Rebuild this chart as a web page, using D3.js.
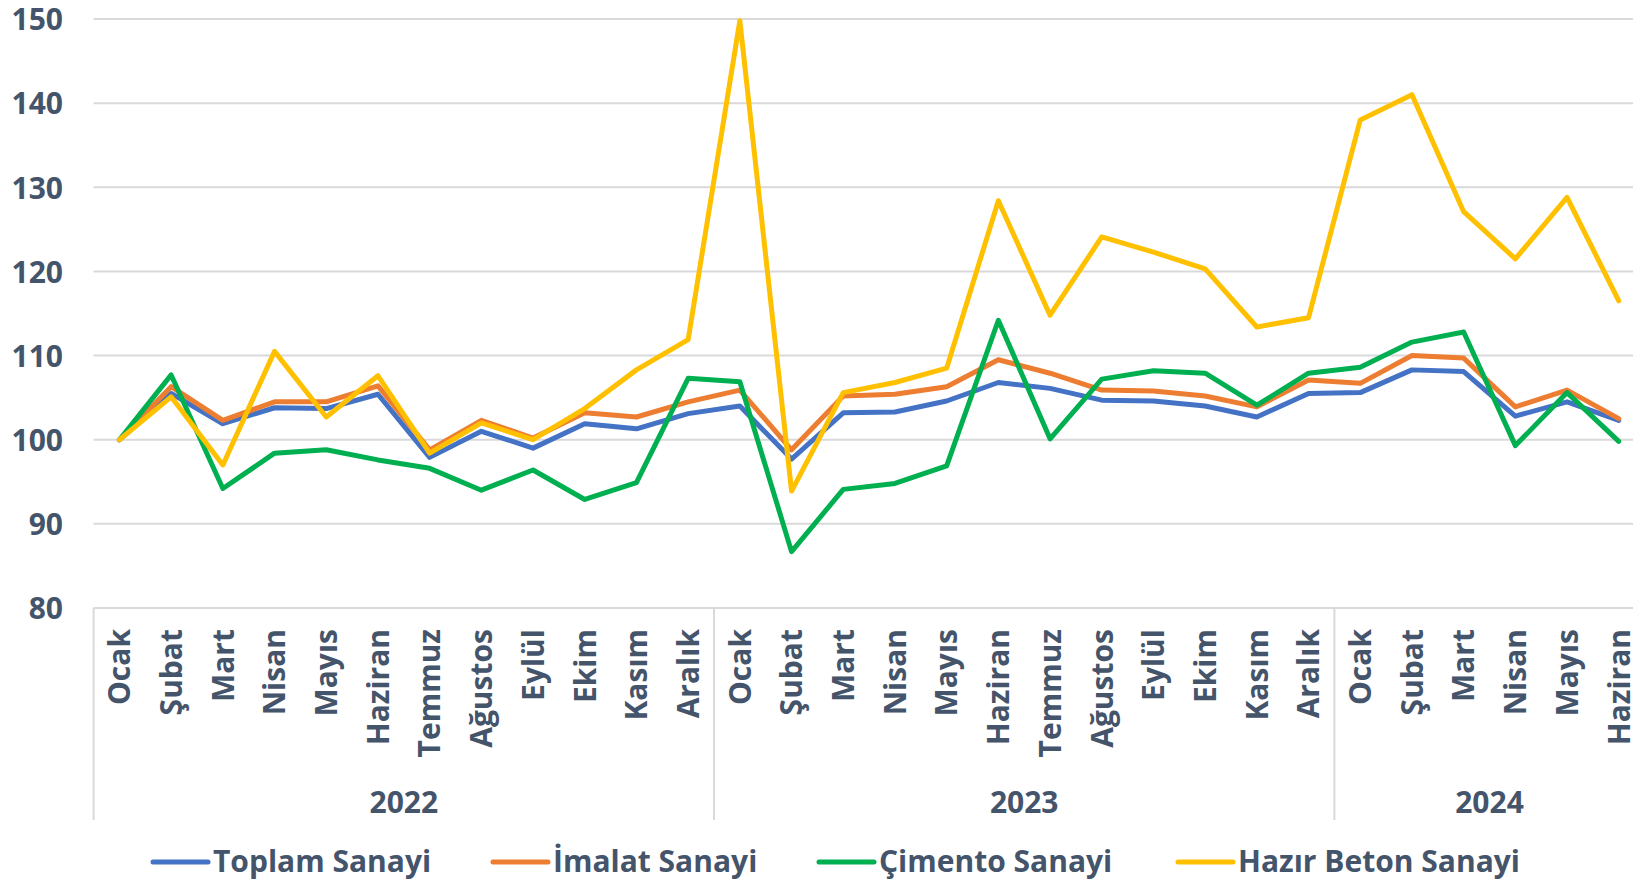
<!DOCTYPE html>
<html>
<head>
<meta charset="utf-8">
<script src="https://d3js.org/d3.v7.min.js"></script>
<style>
	body { margin: 0; background: #fff; }
	text { font-family: 'Open Sans', sans-serif; font-weight: bold; fill: #44546A; }
</style>
</head>
<body>
<div class="chart"></div>
<script>
// month labels on the x axis
var monthLabels = [
	'Ocak', 'Şubat', 'Mart', 'Nisan', 'Mayıs', 'Haziran', 'Temmuz', 'Ağustos', 'Eylül', 'Ekim', 'Kasım', 'Aralık',
	'Ocak', 'Şubat', 'Mart', 'Nisan', 'Mayıs', 'Haziran', 'Temmuz', 'Ağustos', 'Eylül', 'Ekim', 'Kasım', 'Aralık',
	'Ocak', 'Şubat', 'Mart', 'Nisan', 'Mayıs', 'Haziran'
];

// years and how many months each one has
var years = ['2022', '2023', '2024'];
var yearMonths = [12, 12, 6];

var yTicks = [80, 90, 100, 110, 120, 130, 140, 150];

// series values
var toplam = [100, 105.5, 101.9, 103.8, 103.7, 105.4, 97.9, 101.0, 99.0, 101.9, 101.3, 103.1,
	104.0, 97.7, 103.2, 103.3, 104.6, 106.8, 106.1, 104.7, 104.6, 104.0, 102.7, 105.5,
	105.6, 108.3, 108.1, 102.8, 104.5, 102.3];
var imalat = [100, 106.3, 102.3, 104.5, 104.5, 106.4, 98.8, 102.3, 100.2, 103.2, 102.7, 104.5,
	105.9, 98.8, 105.2, 105.4, 106.3, 109.5, 107.9, 105.9, 105.8, 105.2, 103.9, 107.1,
	106.7, 110.0, 109.7, 103.9, 105.9, 102.5];
var cimento = [100, 107.7, 94.2, 98.4, 98.8, 97.6, 96.6, 94.0, 96.4, 92.9, 94.9, 107.3,
	106.9, 86.7, 94.1, 94.8, 96.9, 114.2, 100.1, 107.2, 108.2, 107.9, 104.1, 107.9,
	108.6, 111.6, 112.8, 99.3, 105.6, 99.8];
var hazirBeton = [100, 105.1, 97.0, 110.5, 102.7, 107.6, 98.4, 102.0, 100.0, 103.7, 108.3, 111.9,
	149.8, 93.9, 105.6, 106.8, 108.5, 128.4, 114.8, 124.1, 122.3, 120.3, 113.4, 114.5,
	138.0, 141.0, 127.1, 121.5, 128.8, 116.5];

var seriesNames = ['Toplam Sanayi', 'İmalat Sanayi', 'Çimento Sanayi', 'Hazır Beton Sanayi'];
var seriesColors = ['#4472C4', '#ED7D31', '#00B050', '#FFC000'];
var seriesValues = [toplam, imalat, cimento, hazirBeton];

// set up chart size
var svgWidth = 1633;
var svgHeight = 880;

// plot area (the last category runs past the right edge, as in the original)
var plotLeft = 93.6;
var plotRight = 1644.6;
var plotTop = 19;
var plotBottom = 608;

var svg = d3
	.select('.chart')
	.append('svg')
	.attr('width', svgWidth)
	.attr('height', svgHeight)
	.style('display', 'block');

var chart = svg.append('g');

// scales
var xBandScale = d3.scaleBand()
	.domain(d3.range(monthLabels.length))
	.range([plotLeft, plotRight]);

var yLinearScale = d3.scaleLinear()
	.domain([80, 150])
	.range([plotBottom, plotTop]);

function xCenter(i) {
	return xBandScale(i) + xBandScale.bandwidth() / 2;
}

// gridlines
chart.append('g')
	.selectAll('line')
	.data(yTicks)
	.enter()
	.append('line')
	.attr('x1', plotLeft)
	.attr('x2', svgWidth)
	.attr('y1', function(d) { return yLinearScale(d); })
	.attr('y2', function(d) { return yLinearScale(d); })
	.attr('stroke', '#D9D9D9')
	.attr('stroke-width', 2);

// y axis labels
var leftAxis = d3.axisLeft(yLinearScale)
	.tickValues(yTicks)
	.tickSize(0)
	.tickPadding(0);

var yAxis = chart.append('g')
	.attr('transform', 'translate(63, 0)')
	.call(leftAxis);
yAxis.select('.domain').remove();
yAxis.selectAll('text')
	.attr('fill', '#44546A')
	.style('font-family', "'Open Sans', sans-serif")
	.style('font-weight', 'bold')
	.style('font-size', '30px')
	.attr('dy', '0.36em');

// year group separators
var yearStarts = [0];
yearMonths.forEach(function(n, i) {
	yearStarts.push(yearStarts[i] + n);
});

chart.append('g')
	.selectAll('line')
	.data(yearStarts.slice(0, years.length))
	.enter()
	.append('line')
	.attr('x1', function(d) { return xBandScale(d); })
	.attr('x2', function(d) { return xBandScale(d); })
	.attr('y1', plotBottom)
	.attr('y2', 820)
	.attr('stroke', '#D9D9D9')
	.attr('stroke-width', 2);

// month labels
chart.append('g')
	.selectAll('text')
	.data(monthLabels)
	.enter()
	.append('text')
	.attr('transform', function(d, i) {
		return 'translate(' + xCenter(i) + ', 629) rotate(-90)';
	})
	.attr('text-anchor', 'end')
	.attr('dy', '0.36em')
	.style('font-size', '30px')
	.text(function(d) { return d; });

// year labels
chart.append('g')
	.selectAll('text')
	.data(years)
	.enter()
	.append('text')
	.attr('x', function(d, i) {
		var a = xBandScale(yearStarts[i]);
		var b = xBandScale(yearStarts[i + 1] - 1) + xBandScale.bandwidth();
		return (a + b) / 2;
	})
	.attr('y', 813)
	.attr('text-anchor', 'middle')
	.style('font-size', '30px')
	.text(function(d) { return d; });

// x axis line
chart.append('line')
	.attr('x1', plotLeft)
	.attr('x2', svgWidth)
	.attr('y1', plotBottom)
	.attr('y2', plotBottom)
	.attr('stroke', '#D9D9D9')
	.attr('stroke-width', 2);

// series lines
var line = d3.line()
	.x(function(d, i) { return xCenter(i); })
	.y(function(d) { return yLinearScale(d); });

chart.append('g')
	.selectAll('path')
	.data(seriesValues)
	.enter()
	.append('path')
	.attr('d', function(d) { return line(d); })
	.attr('fill', 'none')
	.attr('stroke', function(d, i) { return seriesColors[i]; })
	.attr('stroke-width', 5)
	.attr('stroke-linejoin', 'round')
	.attr('stroke-linecap', 'round');

// legend
var legendX = [153, 493, 819, 1178];
var legend = chart.append('g')
	.selectAll('g')
	.data(seriesNames)
	.enter()
	.append('g')
	.attr('transform', function(d, i) { return 'translate(' + legendX[i] + ', 862)'; });

legend.append('line')
	.attr('x1', 0)
	.attr('x2', 55)
	.attr('stroke', function(d, i) { return seriesColors[i]; })
	.attr('stroke-width', 5)
	.attr('stroke-linecap', 'round');

legend.append('text')
	.attr('x', 60)
	.attr('y', 10)
	.style('font-size', '30px')
	.text(function(d) { return d; });
</script>
</body>
</html>
